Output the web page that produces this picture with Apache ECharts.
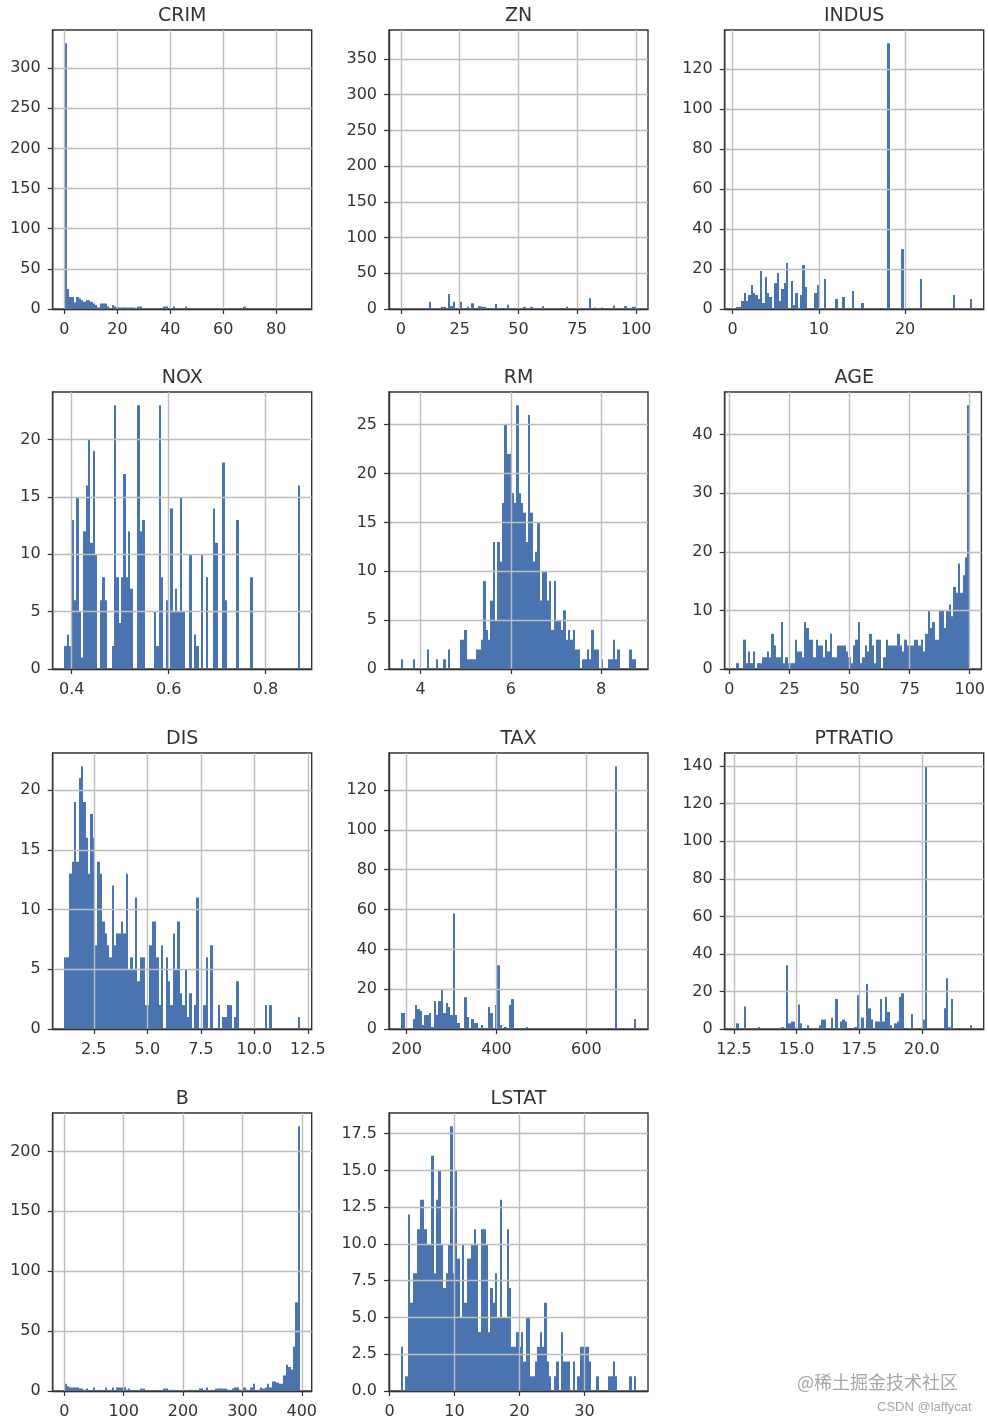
<!DOCTYPE html>
<html>
<head>
<meta charset="utf-8">
<style>
  html, body { margin: 0; padding: 0; background: #fff; }
  #main { width: 988px; height: 1424px; }
</style>
<script src="https://cdn.jsdelivr.net/npm/echarts@6/dist/echarts.min.js"></script>
</head>
<body>
<div id="main"></div>
<script>
// bin counts, 100 bins per feature
const crimCounts = [
  331,25,15,15,8,15,13,11,9,11,
  11,9,7,5,2,7,7,7,3,0,
  5,3,2,2,2,2,2,2,2,2,
  1,3,3,0,0,0,0,0,0,0,
  0,0,3,3,0,1,3,0,0,0,
  0,3,0,0,0,0,0,1,0,0,
  0,0,0,0,0,0,0,0,0,0,
  0,0,0,0,0,0,3,0,0,0,
  0,0,1,0,0,0,0,0,0,0,
  0,0,0,0,0,0,0,0,0,1];
// the bar at 0 does not show in the picture, only the axis leaves room for it
const znCounts = [
  0,0,0,0,0,0,0,0,0,0,
  0,0,10,0,0,0,0,3,3,0,
  21,4,10,0,0,10,0,0,3,0,
  8,0,0,4,3,3,0,0,0,0,
  7,0,0,0,0,6,0,0,0,0,
  0,0,3,0,0,3,0,0,0,0,
  4,0,0,0,0,0,0,0,0,0,
  3,0,0,0,0,0,0,0,0,0,
  15,0,2,0,0,2,0,0,0,0,
  5,0,0,0,0,4,0,0,3,3];
const znAxisTop = 372;
const indusCounts = [
  1,1,4,8,4,7,12,8,7,5,
  19,3,16,8,6,0,13,18,4,10,
  13,23,0,14,2,8,0,7,22,11,
  0,0,0,8,12,0,0,15,0,0,
  0,0,5,0,0,6,0,0,0,9,
  0,0,0,3,0,0,0,0,0,0,
  0,0,0,0,133,0,0,0,0,0,
  30,0,0,0,0,0,0,0,15,0,
  0,0,0,0,0,0,0,0,0,0,
  0,0,7,0,0,0,0,0,0,5];
const noxCounts = [
  2,3,2,13,6,15,5,1,12,16,
  20,11,19,10,0,6,8,6,0,0,
  2,23,8,4,8,17,8,12,7,0,
  0,23,12,13,0,0,0,0,5,2,
  23,8,0,6,0,14,5,7,5,15,
  5,0,0,10,0,3,2,0,10,0,
  8,0,0,14,11,0,0,18,6,0,
  0,0,0,13,0,0,0,0,0,8,
  0,0,0,0,0,0,0,0,0,0,
  0,0,0,0,0,0,0,0,0,16];
const rmCounts = [
  1,0,0,0,0,1,0,0,0,0,
  0,2,0,0,0,1,0,0,1,0,
  2,0,0,0,0,3,3,4,1,1,
  1,1,2,2,3,9,4,3,7,13,
  5,13,11,17,25,22,22,18,17,27,
  18,17,16,13,26,16,11,12,15,7,
  10,10,7,9,4,9,5,5,4,6,
  3,4,3,4,2,2,0,1,1,2,
  1,4,2,2,0,1,0,0,1,1,
  3,1,2,0,0,0,0,2,1,1];
const ageCounts = [
  1,0,0,5,1,3,1,3,0,1,
  1,2,2,3,2,6,4,2,2,8,
  1,2,1,1,1,5,3,3,2,8,
  7,5,5,2,5,4,4,2,5,3,
  6,2,2,4,4,4,4,3,2,1,
  4,5,8,1,2,4,3,6,4,1,
  5,5,0,2,5,4,4,4,4,6,
  4,3,5,4,4,4,5,5,4,5,
  3,6,10,7,8,5,5,10,10,7,
  10,11,9,14,13,18,13,16,19,45];
const disCounts = [
  6,6,13,14,19,14,21,22,19,16,
  13,18,16,7,14,13,9,8,7,6,
  12,7,8,8,9,8,13,5,6,5,
  11,4,6,6,2,2,7,9,9,6,
  2,7,0,6,4,2,8,5,9,3,
  2,5,1,3,0,2,11,0,0,2,
  6,0,7,0,0,2,0,1,1,2,
  2,0,1,4,0,0,0,0,0,0,
  0,0,0,0,0,2,0,2,0,0,
  0,0,0,0,0,0,0,0,0,1];
const taxCounts = [
  8,8,0,0,0,5,12,10,9,2,
  7,7,8,1,14,7,14,20,8,13,
  11,7,58,7,3,0,0,16,6,0,
  5,3,3,0,2,0,0,11,8,0,
  12,32,2,0,1,0,12,15,0,0,
  0,0,0,1,0,0,0,0,0,0,
  0,0,0,0,0,0,0,0,0,0,
  0,0,0,0,0,0,0,0,0,0,
  0,0,0,0,0,0,0,0,0,0,
  0,132,0,0,0,0,0,0,0,5];
const ptratioCounts = [
  3,0,0,12,0,0,0,0,0,1,
  0,0,0,0,0,0,0,0,0,1,
  0,34,3,4,4,0,13,3,0,0,
  2,0,0,0,0,2,5,5,0,0,
  6,0,16,0,4,5,4,0,0,0,
  1,18,0,6,0,24,11,5,0,4,
  4,16,4,17,9,2,0,3,4,17,
  19,0,0,0,8,0,0,0,0,5,
  140,0,0,0,0,0,0,0,11,27,
  1,16,0,0,0,0,0,0,0,2];
const bCounts = [
  6,4,3,3,3,3,2,2,1,2,
  0,0,3,0,0,1,0,3,0,1,
  3,0,3,3,3,3,1,2,0,0,
  0,0,2,2,0,0,0,0,0,0,
  0,0,2,2,0,1,1,0,0,0,
  0,0,0,1,0,0,0,2,2,0,
  3,0,1,0,2,2,2,2,2,1,
  1,2,3,3,1,0,3,1,0,3,
  6,0,1,3,2,3,6,3,8,8,
  7,6,6,13,22,20,18,37,74,221];
const lstatCounts = [
  3,0,1,12,6,8,8,11,13,13,
  11,10,10,16,8,13,15,10,7,8,
  10,18,8,15,9,5,10,6,9,9,
  10,11,10,4,11,11,10,4,7,6,
  8,5,13,5,5,11,7,3,3,4,
  3,4,2,5,5,1,1,2,3,4,
  3,6,2,1,0,1,2,0,4,2,
  2,2,0,2,0,1,3,3,3,3,
  2,0,0,1,0,0,0,0,1,1,
  2,1,0,0,0,0,0,1,0,1];

// feature: [name, counts, data min, data max, x ticks, y ticks, x digits, y digits, tallest count]
const features = [
  ['CRIM', crimCounts, 0.00632, 88.9762, [0,20,40,60,80], [0,50,100,150,200,250,300], 0, 0, Math.max(...crimCounts)],
  ['ZN', znCounts, 0, 100, [0,25,50,75,100], [0,50,100,150,200,250,300,350], 0, 0, znAxisTop],
  ['INDUS', indusCounts, 0.46, 27.74, [0,10,20], [0,20,40,60,80,100,120], 0, 0, Math.max(...indusCounts)],
  ['NOX', noxCounts, 0.385, 0.871, [0.4,0.6,0.8], [0,5,10,15,20], 1, 0, Math.max(...noxCounts)],
  ['RM', rmCounts, 3.561, 8.78, [4,6,8], [0,5,10,15,20,25], 0, 0, Math.max(...rmCounts)],
  ['AGE', ageCounts, 2.9, 100, [0,25,50,75,100], [0,10,20,30,40], 0, 0, Math.max(...ageCounts)],
  ['DIS', disCounts, 1.1296, 12.1265, [2.5,5,7.5,10,12.5], [0,5,10,15,20], 1, 0, Math.max(...disCounts)],
  ['TAX', taxCounts, 187, 711, [200,400,600], [0,20,40,60,80,100,120], 0, 0, Math.max(...taxCounts)],
  ['PTRATIO', ptratioCounts, 12.6, 22, [12.5,15,17.5,20], [0,20,40,60,80,100,120,140], 1, 0, Math.max(...ptratioCounts)],
  ['B', bCounts, 0.32, 396.9, [0,100,200,300,400], [0,50,100,150,200], 0, 0, Math.max(...bCounts)],
  ['LSTAT', lstatCounts, 1.73, 37.97, [0,10,20,30], [0,2.5,5,7.5,10,12.5,15,17.5], 0, 1, Math.max(...lstatCounts)]
];

const colLefts = [52.7, 389, 724.7];
const rowTops = [30, 392, 753, 1113];
const rowHeights = [279, 277, 276, 278];
const plotWidth = 259;

const barColor = '#4a74b0';
const inkColor = '#333';
const gridColor = '#bdbdbd';
const fontName = '"DejaVu Sans"';

let grids = [], xAxes = [], yAxes = [], titles = [], series = [];

function axisStyle(ticks, digits, margin, padding) {
  return {
    type: 'value',
    z: 3,
    axisLine: { show: true, onZero: false, lineStyle: { color: inkColor, width: 1.4 } },
    axisTick: { show: true, length: 5, customValues: ticks, lineStyle: { color: inkColor, width: 1.2 } },
    axisLabel: {
      customValues: ticks,
      margin: margin,
      padding: padding,
      fontSize: 16,
      fontFamily: fontName,
      color: inkColor,
      formatter: v => Number(v).toFixed(digits)
    },
    splitLine: { show: true, lineStyle: { color: gridColor, width: 1.4 } }
  };
}

features.forEach((f, i) => {
  const [name, counts, lo, hi, xTicks, yTicks, xDigits, yDigits, tallest] = f;
  const col = i % 3, row = Math.floor(i / 3);
  const left = colLefts[col], top = rowTops[row], height = rowHeights[row];
  const pad = (hi - lo) * 0.05;
  const step = (hi - lo) / counts.length;

  grids.push({
    show: true, left: left, top: top, width: plotWidth, height: height,
    borderColor: inkColor, borderWidth: 1.4, backgroundColor: '#fff'
  });
  xAxes.push(Object.assign(axisStyle(xTicks, xDigits, 13, 0), { gridIndex: i, min: lo - pad, max: hi + pad }));
  yAxes.push(Object.assign(axisStyle(yTicks, yDigits, 12, [5, 0, 0, 0]), { gridIndex: i, min: 0, max: tallest * 1.05 }));
  titles.push({
    text: name,
    left: left + plotWidth / 2,
    top: top - 23,
    padding: 0,
    textAlign: 'center',
    textStyle: { fontFamily: fontName, fontSize: 19, fontWeight: 'normal', color: inkColor }
  });

  const bins = [];
  counts.forEach((c, b) => {
    if (c > 0) bins.push([lo + b * step, lo + (b + 1) * step, c]);
  });
  series.push({
    type: 'custom',
    name: name,
    xAxisIndex: i,
    yAxisIndex: i,
    z: 2,
    encode: { x: [0, 1], y: 2 },
    data: bins,
    renderItem: (params, api) => {
      const a = api.coord([api.value(0), 0]);
      const b = api.coord([api.value(1), api.value(2)]);
      // snap the sides to whole pixels so neighbouring bars leave no seam
      const x0 = Math.round(a[0]), x1 = Math.round(b[0]);
      return {
        type: 'rect',
        shape: { x: x0, y: b[1], width: x1 - x0, height: a[1] - b[1] },
        style: { fill: barColor }
      };
    }
  });
});

// watermarks bottom right
titles.push({
  text: '@稀土掘金技术社区', left: 797, top: 1373, padding: 0,
  textStyle: { fontFamily: '"Noto Sans CJK SC"', fontSize: 18, fontWeight: 'normal', color: '#a6a6a6' }
});
titles.push({
  text: 'CSDN @laffycat', left: 877, top: 1401, padding: 0,
  textStyle: { fontFamily: '"Liberation Sans"', fontSize: 13, fontWeight: 'normal', color: '#a6a6a6' }
});

let myChart = echarts.init(document.getElementById('main'));
myChart.setOption({
  animation: false,
  backgroundColor: '#fff',
  title: titles,
  grid: grids,
  xAxis: xAxes,
  yAxis: yAxes,
  series: series
});
</script>
</body>
</html>
